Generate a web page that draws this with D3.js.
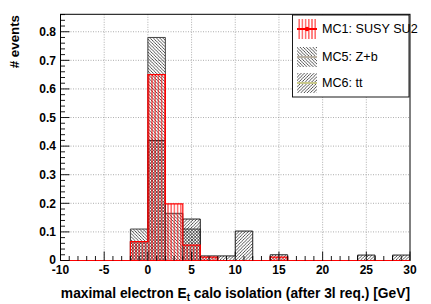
<!DOCTYPE html>
<html><head><meta charset="utf-8">
<script src="https://cdn.jsdelivr.net/npm/d3@7"></script>
<style>body{margin:0;background:#fff}svg{display:block}</style>
</head><body>
<svg id="c" width="431" height="304"></svg>
<script>
// bin low edges (bin width 2 GeV)
const binLow = [-10,-8,-6,-4,-2,0,2,4,6,8,10,12,14,16,18,20,22,24,26,28];
const binWidth = 2;
const mc1 = [0,0,0,0,0.066,0.65,0.198,0.054,0.012,0,0,0,0.012,0,0,0,0,0,0,0];
const mc5 = [0,0,0,0,0.11,0.78,0.165,0.11,0,0,0,0,0,0,0,0,0,0,0,0];
const mc6 = [0,0,0,0,0.066,0.42,0,0.145,0.016,0.016,0.103,0,0.02,0,0,0,0,0.019,0,0.019];
const seriesNames = ["MC1: SUSY SU2","MC5: Z+b","MC6: tt"];
const xTicks = [-10,-5,0,5,10,15,20,25,30];
const yTicks = [0,0.1,0.2,0.3,0.4,0.5,0.6,0.7,0.8];
const yTickLabels = ["0","0.1","0.2","0.3","0.4","0.5","0.6","0.7","0.8"];

const svg = d3.select("#c");
const L = 60.5, R = 410, T = 14.3, B = 260.5;
const x = d3.scaleLinear().domain([-10,30]).range([L,R]);
const y = d3.scaleLinear().domain([0,0.861]).range([B,T]);
const font = "'Liberation Sans', Arial, Helvetica, sans-serif";

// patterns
const defs = svg.append("defs");
const s = 3.2;
function hatch(id, dir, color, w){
  const p = defs.append("pattern").attr("id",id).attr("patternUnits","userSpaceOnUse")
    .attr("width",s).attr("height",s);
  let d;
  if (dir==="back") d = `M${-1},${-1}L${s+1},${s+1}M${-1},${s-1}L1,${s+1}M${s-1},-1L${s+1},1`;
  else if (dir==="fwd") d = `M-1,${s+1}L${s+1},-1M-1,1L1,-1M${s-1},${s+1}L${s+1},${s-1}`;
  else d = `M${s/2},-1V${s+1}`;
  p.append("path").attr("d",d).attr("stroke",color).attr("stroke-width",w).attr("fill","none");
}
hatch("p5","back","#2a2a2a",0.8);
hatch("p6","fwd","#2a2a2a",0.8);
hatch("p1","vert","#f00",0.9);

// grid
const gGrid = svg.append("g").attr("stroke","#999").attr("stroke-width",0.8).attr("stroke-dasharray","1,1.5");
xTicks.slice(1,-1).forEach(t=>gGrid.append("line").attr("x1",x(t)).attr("x2",x(t)).attr("y1",T).attr("y2",B));
yTicks.slice(1).forEach(t=>gGrid.append("line").attr("x1",L).attr("x2",R).attr("y1",y(t)).attr("y2",y(t)));

function drawHist(vals, pat, stroke, sw){
  const g = svg.append("g");
  g.selectAll("rect").data(vals.map((v,i)=>({x0:binLow[i],v}))).join("rect")
    .attr("x",d=>x(d.x0)).attr("width",d=>x(d.x0+binWidth)-x(d.x0))
    .attr("y",d=>y(d.v)).attr("height",d=>y(0)-y(d.v))
    .attr("fill",`url(#${pat})`);
  const pts = [];
  vals.forEach((v,i)=>{pts.push([binLow[i],v]);pts.push([binLow[i]+binWidth,v]);});
  const line = d3.line().x(d=>x(d[0])).y(d=>y(d[1]));
  g.append("path").attr("d",line(pts)).attr("fill","none").attr("stroke",stroke).attr("stroke-width",sw);
}
drawHist(mc5,"p5","#444",1);
drawHist(mc6,"p6","#222",1);
drawHist(mc1,"p1","#f00",1.2);

// frame
svg.append("rect").attr("x",L).attr("y",T).attr("width",R-L).attr("height",B-T)
  .attr("fill","none").attr("stroke","#000").attr("stroke-width",1);
svg.append("line").attr("x1",L).attr("x2",R).attr("y1",B).attr("y2",B).attr("stroke","#f00").attr("stroke-width",1.2);

// axes with inward ticks
const gx = svg.append("g");
d3.range(-10,31,1).forEach(t=>{
  const major = t%5===0;
  gx.append("line").attr("x1",x(t)).attr("x2",x(t)).attr("y1",B).attr("y2",B-(major?9:4.5)).attr("stroke","#000").attr("stroke-width",0.9);
});
xTicks.forEach(t=>gx.append("text").attr("x",x(t)).attr("y",274).attr("text-anchor","middle")
  .attr("font-family",font).attr("font-weight","bold").attr("font-size",12).text(t));
const gy = svg.append("g");
d3.range(0,0.861,0.02).forEach((t,i)=>{
  const major = i%5===0;
  gy.append("line").attr("x1",L).attr("x2",L+(major?9:4.5)).attr("y1",y(t)).attr("y2",y(t)).attr("stroke","#000").attr("stroke-width",0.9);
});
yTicks.forEach((t,i)=>gy.append("text").attr("x",56).attr("y",y(t)+(i===0?3:4.2)).attr("text-anchor","end")
  .attr("font-family",font).attr("font-weight","bold").attr("font-size",12).text(yTickLabels[i]));

// titles
const xt = svg.append("text").attr("x",R).attr("y",298).attr("text-anchor","end")
  .attr("font-family",font).attr("font-weight","bold").attr("font-size",13.8);
xt.append("tspan").text("maximal electron E");
xt.append("tspan").attr("font-size",10).attr("dy",3).text("t");
xt.append("tspan").attr("dy",-3).text(" calo isolation (after 3l req.) [GeV]");
svg.append("text").attr("transform","translate(19,15) rotate(-90)").attr("text-anchor","end")
  .attr("font-family",font).attr("font-weight","bold").attr("font-size",13.3).text("# events");

// legend
const lg = svg.append("g");
lg.append("rect").attr("x",292.5).attr("y",15).attr("width",116.5).attr("height",82)
  .attr("fill","#fff").attr("stroke","#000").attr("stroke-width",0.9);
const legY = [29,57,83];
const legPat = ["p1","p5","p6"];
const legLine = ["#f00","#b8b0a2","#c8c88a"];
seriesNames.forEach((n,i)=>{
  lg.append("rect").attr("x",297).attr("y",legY[i]-10).attr("width",20).attr("height",20).attr("fill",`url(#${legPat[i]})`);
  lg.append("line").attr("x1",297).attr("x2",317).attr("y1",legY[i]).attr("y2",legY[i]).attr("stroke",legLine[i]).attr("stroke-width",2);
  if(i===0) lg.append("circle").attr("cx",307).attr("cy",legY[i]).attr("r",2.2).attr("fill","#f00");
  lg.append("text").attr("x",322).attr("y",legY[i]+4.3).attr("font-family",font).attr("font-size",12.6).text(n);
});
</script>
</body></html>
